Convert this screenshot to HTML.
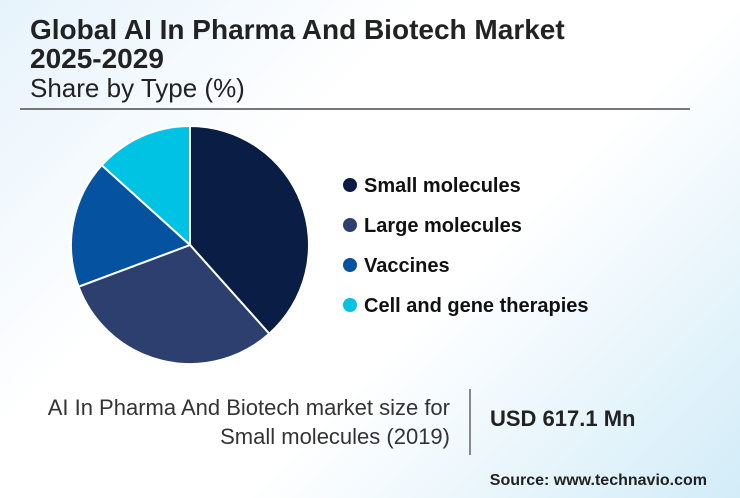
<!DOCTYPE html>
<html><head><meta charset="utf-8"><style>
body{margin:0;width:740px;height:498px;overflow:hidden;font-family:"Liberation Sans",sans-serif;}
#root{position:relative;width:740px;height:498px;background:linear-gradient(135deg,#e6f3fb 0%,#ffffff 35%,#ffffff 60%,#d2ecf8 100%);}
.t{position:absolute;white-space:nowrap;color:#222;}
</style></head><body>
<div id="root">
<div class="t" style="left:30px;top:15px;font-size:28px;font-weight:bold;line-height:29px;">Global AI In Pharma And Biotech Market<br>2025-2029</div>
<div class="t" style="left:30px;top:73px;font-size:26px;">Share by Type (%)</div>
<div style="position:absolute;left:20px;top:108px;width:670px;height:2px;background:#777;"></div>
<svg id="pie" width="740" height="498" style="position:absolute;left:0;top:0"></svg>
<div class="t" style="right:290px;top:393px;font-size:22px;text-align:right;line-height:29px;color:#333;">AI In Pharma And Biotech market size for<br>Small molecules (2019)</div>
<div style="position:absolute;left:469px;top:389px;width:2px;height:66px;background:#888;"></div>
<div class="t" style="left:490px;top:406px;font-size:22px;font-weight:bold;">USD 617.1 Mn</div>
<div class="t" style="right:33px;top:472px;font-size:16px;font-weight:bold;">Source: www.technavio.com</div>
</div>
<script>
const categories=["Small molecules","Large molecules","Vaccines","Cell and gene therapies"];
const shares=[38.4,30.9,17.4,13.3];
const colors=["#0a1d44","#2c3f6f","#0553a0","#00c2e2"];
const svg=document.getElementById('pie');
const NS="http://www.w3.org/2000/svg";
const cx=190,cy=245,r=119;
const total=shares.reduce((a,b)=>a+b,0);
let a0=0;
function pt(a){return [cx+r*Math.sin(a),cy-r*Math.cos(a)];}
shares.forEach((v,i)=>{
  const a1=a0+v/total*2*Math.PI;
  const p0=pt(a0),p1=pt(a1);
  const path=document.createElementNS(NS,'path');
  path.setAttribute('d',`M${cx},${cy}L${p0[0]},${p0[1]}A${r},${r} 0 ${a1-a0>Math.PI?1:0} 1 ${p1[0]},${p1[1]}Z`);
  path.setAttribute('fill',colors[i]);
  path.setAttribute('stroke','#fff');
  path.setAttribute('stroke-width','2');
  
  
  svg.appendChild(path);
  a0=a1;
  const y=185+i*40;
  const c=document.createElementNS(NS,'circle');
  c.setAttribute('cx',350);c.setAttribute('cy',y);c.setAttribute('r',7);c.setAttribute('fill',colors[i]);
  
  
  svg.appendChild(c);
  const t=document.createElementNS(NS,'text');
  t.setAttribute('x',364);t.setAttribute('y',y+7);
  t.setAttribute('font-size','20');t.setAttribute('font-weight','bold');t.setAttribute('fill','#111');
  t.setAttribute('font-family','Liberation Sans, sans-serif');
  t.textContent=categories[i];
  
  
  svg.appendChild(t);
});
</script>
</body></html>
